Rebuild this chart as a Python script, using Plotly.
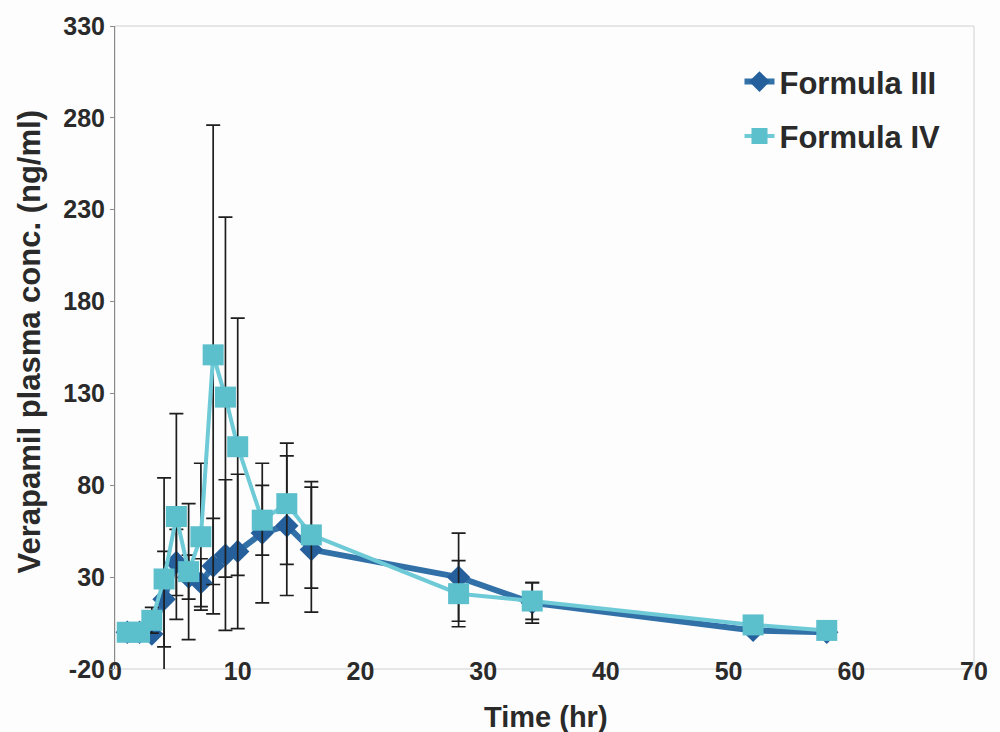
import plotly.graph_objects as go

# Sampling times (hr)
time_hr = [1, 2, 3, 4, 5, 6, 7, 8, 9, 10, 12, 14, 16, 28, 34, 52, 58]

# Mean verapamil plasma concentration (ng/ml) and SD for each formula
formula_iii = [0, 0, -1, 18, 38, 30, 27, 36, 42, 44, 54, 58, 45, 30, 16, 1, 0]
formula_iii_sd = [None, None, 2, 26, 18, 12, 13, 26, 41, 42, 38, 38, 34, 24, 11, None, None]

formula_iv = [0, 0, 6.5, 29, 63, 33, 52, 151, 128, 101, 61, 70, 53, 21, 17, 4, 1]
formula_iv_sd = [None, None, 7, 55, 56, 37, 40, 125, 98, 70, 19, 33, 29, 18, 10, None, None]

# Axis ticks
x_ticks = [0, 10, 20, 30, 40, 50, 60, 70]
y_ticks = [-20, 30, 80, 130, 180, 230, 280, 330]
y_tick_text = [str(v) for v in y_ticks]

FONT = "Liberation Sans, Arial, sans-serif"
TEXT = "#2a2a2a"
AXIS = "#8a8a8a"

fig = go.Figure()

fig.add_trace(go.Scatter(
    x=time_hr, y=formula_iii, name="Formula III", mode="lines+markers",
    line=dict(color="#3270a8", width=6),
    marker=dict(symbol="diamond", size=18, color="#25609c"),
    error_y=dict(type="data", array=formula_iii_sd, color="#1e1e1e", thickness=1.7, width=7),
    legendgroup="iii",
))
fig.add_trace(go.Scatter(
    x=time_hr, y=formula_iv, name="Formula IV", mode="lines+markers",
    line=dict(color="#6dcad6", width=4),
    marker=dict(symbol="square", size=21, color="#5cbfcc"),
    error_y=dict(type="data", array=formula_iv_sd, color="#1e1e1e", thickness=1.7, width=7),
    legendgroup="iv",
))

# Position of the y = 0 line in paper coordinates (x-axis line with ticks)
y_lo, y_hi = y_ticks[0], y_ticks[-1]
zero_pos = (0 - y_lo) / (y_hi - y_lo)

fig.update_layout(
    width=1000, height=732,
    margin=dict(l=115, r=19, t=23, b=63),
    paper_bgcolor="#fdfdfd", plot_bgcolor="#fdfdfd",
    font=dict(family=FONT, color=TEXT, size=24),
    showlegend=True,
    legend=dict(
        x=0.727, y=0.955, xanchor="left", yanchor="top",
        bgcolor="rgba(0,0,0,0)", borderwidth=0,
        font=dict(family=FONT, size=31, color=TEXT, weight="bold"),
        traceorder="grouped", tracegroupgap=11,
    ),
    xaxis=dict(
        range=[x_ticks[0], x_ticks[-1]], tickvals=x_ticks,
        showgrid=False, zeroline=False, showline=False, ticks="",
        anchor="free", position=0.024,
        tickfont=dict(family=FONT, size=25, color=TEXT, weight="bold"),
    ),
    xaxis2=dict(
        range=[x_ticks[0], x_ticks[-1]], tickvals=x_ticks,
        overlaying="x", anchor="free", position=zero_pos,
        showgrid=False, zeroline=False, showline=True, linecolor=AXIS, linewidth=1,
        ticks="outside", ticklen=6, tickcolor=AXIS, showticklabels=False,
    ),
    yaxis=dict(
        range=[y_lo, y_hi], tickvals=y_ticks, ticktext=y_tick_text,
        showgrid=False, zeroline=False, showline=True, linecolor=AXIS, linewidth=1,
        ticks="outside", ticklen=4, tickcolor=AXIS, ticklabelstandoff=0,
        tickfont=dict(family=FONT, size=25, color=TEXT, weight="bold"),
    ),
    shapes=[
        # faint plot-area frame
        dict(type="rect", xref="paper", yref="paper", x0=0, y0=0, x1=1, y1=1,
             line=dict(color="#d0d0d0", width=1), layer="below"),
    ],
    annotations=[
        dict(text="Time (hr)", xref="paper", yref="paper", x=0.502, y=-0.074,
             xanchor="center", yanchor="middle", showarrow=False,
             font=dict(family=FONT, size=29, color=TEXT, weight="bold")),
        dict(text="Verapamil plasma conc. (ng/ml)", xref="paper", yref="paper",
             x=-0.1, y=0.508, xanchor="center", yanchor="middle", textangle=-90,
             showarrow=False, font=dict(family=FONT, size=31, color=TEXT, weight="bold")),
    ],
)

fig.write_html("out.html")
